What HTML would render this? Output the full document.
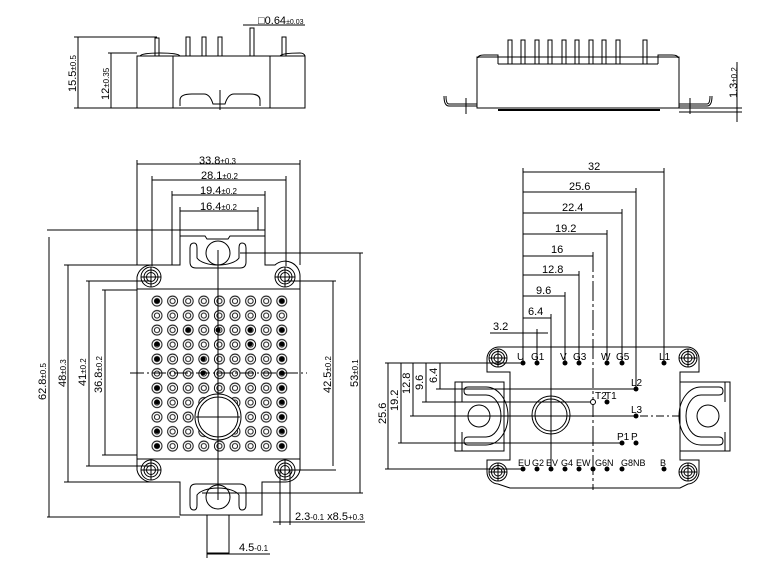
<!DOCTYPE html>
<html><head><meta charset="utf-8"><style>
html,body{margin:0;padding:0;background:#fff;}
svg{display:block}
text{font-family:"Liberation Sans",sans-serif;fill:#000}
</style></head><body>
<svg width="772" height="572" viewBox="0 0 772 572" xmlns="http://www.w3.org/2000/svg">
<defs>
<pattern id="pins" patternUnits="userSpaceOnUse" x="149.2" y="293.8" width="15.6" height="14.5">
<circle cx="7.8" cy="7.25" r="5" fill="none" stroke="#000" stroke-width="0.9"/>
<circle cx="7.8" cy="7.25" r="2.6" fill="none" stroke="#000" stroke-width="0.9"/>
</pattern>
<g id="hole"><circle r="10" fill="none" stroke="#000"/><circle r="7" fill="none" stroke="#000"/><circle r="4.5" fill="none" stroke="#000"/><line x1="-10" y1="0" x2="10" y2="0" stroke="#000"/><line x1="0" y1="-10" x2="0" y2="10" stroke="#000"/></g>
<g id="hole2"><circle r="9" fill="none" stroke="#000"/><circle r="6.5" fill="none" stroke="#000"/><circle r="4" fill="none" stroke="#000"/><line x1="-9" y1="0" x2="9" y2="0" stroke="#000"/><line x1="0" y1="-9" x2="0" y2="9" stroke="#000"/></g>
</defs>
<g fill="none" stroke="#000" stroke-width="1">
<!-- TOP LEFT SIDE VIEW -->
<rect x="137" y="56" width="168" height="52"/>
<line x1="173" y1="56" x2="173" y2="108"/><line x1="270" y1="56" x2="270" y2="108"/>
<path d="M155 56 V38 h4 V56 M186 56 V37 h4 V56 M202 56 V37 h4 V56 M218 56 V37 h4 V56 M250 56 V28 h4 V56 M282 56 V37 h4 V56"/>
<path d="M140 56 q2 -3 20 -3 q18 0 20 3 M280 56 q2 -3 20 -3 q4 0 5 3"/>
<path d="M180 106 v-6 q0 -6 12 -6 h12 q6 0 9 10 h12 q3 -10 9 -10 h16 q10 0 10 6 v6"/>
<line x1="220" y1="90" x2="220" y2="110"/>
<line x1="78" y1="37" x2="78" y2="108"/><line x1="74" y1="37" x2="157" y2="37"/>
<line x1="111" y1="53" x2="111" y2="108"/><line x1="108" y1="53" x2="137" y2="53"/>
<line x1="74" y1="108" x2="137" y2="108"/>
<line x1="243" y1="25" x2="305" y2="25"/>
<!-- TOP RIGHT SIDE VIEW -->
<rect x="477" y="57" width="202" height="51"/>
<line x1="498" y1="64" x2="658" y2="64"/>
<path d="M478 58 q0 -3 6 -3 h14 v9 M658 64 v-9 h14 q6 0 6 3"/>
<path d="M508 64 V40 h4 V64 M521 64 V40 h4 V64 M535 64 V40 h4 V64 M548 64 V40 h4 V64 M562 64 V40 h4 V64 M575 64 V40 h4 V64 M589 64 V40 h4 V64 M602 64 V40 h4 V64 M616 64 V40 h4 V64 M643 64 V40 h4 V64"/>
<line x1="498" y1="110" x2="660" y2="110" stroke-width="2"/>
<path d="M477 104 h-28 q-3 0 -3 -8 M477 106 h-28 q-5 0 -5 -10"/>
<path d="M679 104 h28 q3 0 3 -8 M679 106 h28 q5 0 5 -10"/>
<line x1="466" y1="98" x2="466" y2="114"/><line x1="690" y1="98" x2="690" y2="114"/>
<line x1="679" y1="108" x2="742" y2="108"/><line x1="679" y1="112" x2="742" y2="112"/>
<line x1="737" y1="62" x2="737" y2="122"/>

<!-- LEFT PLAN VIEW -->
<path d="M160 265 H180 V230 H265 V265 H275 a15 15 0 0 1 25 12 V470 a15 15 0 0 1 -15 12 H262 V515 H180 V482 H152 a15 15 0 0 1 -15 -12 V277 a15 15 0 0 1 15 -12 Z"/>
<line x1="137" y1="289" x2="300" y2="289"/><line x1="137" y1="459" x2="300" y2="459"/>
<path d="M180 236 H205 l2 3 H228 l2 -3 H265"/>
<path d="M194 243 q-4 0 -4 5 V262 q0 6 6 6 H240 q6 0 6 -6 V248 q0 -5 -4 -5 q-3 0 -3 5 V258 A22 10 0 0 1 197 258 V248 q0 -5 -3 -5 Z"/>
<circle cx="218" cy="253" r="12"/>
<path d="M194 510 q-4 0 -4 -5 V490 q0 -6 6 -6 H240 q6 0 6 6 V505 q0 5 -4 5 q-3 0 -3 -5 V495 A22 10 0 0 0 197 495 V505 q0 5 -3 5 Z"/>
<circle cx="218" cy="497" r="12"/>
<rect x="207" y="515" width="22" height="38"/>
<rect x="149.2" y="293.8" width="140.4" height="159.5" fill="url(#pins)" stroke="none"/>
<circle cx="218" cy="417" r="23" fill="#fff"/><circle cx="218" cy="417" r="20"/>
<g fill="#000" stroke="none">
<circle cx="157" cy="301" r="2.5"/><circle cx="282" cy="301" r="2.5"/><circle cx="188" cy="330" r="2.5"/><circle cx="218" cy="330" r="2.5"/><circle cx="250" cy="330" r="2.5"/><circle cx="282" cy="330" r="2.5"/>
<circle cx="157" cy="344" r="2.5"/><circle cx="250" cy="344" r="2.5"/><circle cx="282" cy="344" r="2.5"/><circle cx="157" cy="359" r="2.5"/><circle cx="203" cy="359" r="2.5"/><circle cx="282" cy="359" r="2.5"/>
<circle cx="203" cy="373" r="2.5"/><circle cx="282" cy="373" r="2.5"/><circle cx="157" cy="388" r="2.5"/><circle cx="282" cy="388" r="2.5"/><circle cx="157" cy="402" r="2.5"/><circle cx="282" cy="402" r="2.5"/>
<circle cx="282" cy="417" r="2.5"/><circle cx="157" cy="431" r="2.5"/><circle cx="282" cy="431" r="2.5"/><circle cx="157" cy="446" r="2.5"/><circle cx="282" cy="446" r="2.5"/>
</g>
<use href="#hole" x="151" y="277"/><use href="#hole" x="285" y="277"/><use href="#hole" x="151" y="470"/><use href="#hole" x="285" y="470"/>
<line x1="130" y1="373" x2="307" y2="373" stroke-dasharray="14,3,2,3"/>
<line x1="218" y1="250" x2="218" y2="500"/>
<line x1="196" y1="417" x2="240" y2="417"/>
<!-- top dims -->
<line x1="137" y1="164" x2="300" y2="164"/><line x1="137" y1="160" x2="137" y2="265"/><line x1="300" y1="160" x2="300" y2="265"/>
<line x1="152" y1="180" x2="286" y2="180"/><line x1="152" y1="176" x2="152" y2="266"/><line x1="286" y1="176" x2="286" y2="266"/>
<line x1="172" y1="195" x2="265" y2="195"/><line x1="172" y1="191" x2="172" y2="265"/><line x1="265" y1="191" x2="265" y2="230"/>
<line x1="180" y1="211" x2="258" y2="211"/><line x1="180" y1="207" x2="180" y2="230"/><line x1="258" y1="207" x2="258" y2="230"/>
<!-- left dims -->
<line x1="47" y1="230" x2="180" y2="230"/><line x1="49" y1="237" x2="49" y2="517"/><line x1="47" y1="517" x2="180" y2="517"/>
<line x1="64" y1="265" x2="152" y2="265"/><line x1="68" y1="265" x2="68" y2="482"/><line x1="64" y1="482" x2="152" y2="482"/>
<line x1="86" y1="281" x2="151" y2="281"/><line x1="89" y1="281" x2="89" y2="466"/><line x1="86" y1="466" x2="151" y2="466"/>
<line x1="102" y1="290" x2="137" y2="290"/><line x1="105" y1="290" x2="105" y2="455"/><line x1="102" y1="455" x2="137" y2="455"/>
<!-- right dims -->
<line x1="285" y1="281" x2="336" y2="281"/><line x1="333" y1="281" x2="333" y2="466"/><line x1="285" y1="470" x2="336" y2="470"/>
<line x1="240" y1="253" x2="363" y2="253"/><line x1="360" y1="253" x2="360" y2="493"/><line x1="202" y1="493" x2="363" y2="493"/>
<line x1="280" y1="470" x2="280" y2="525"/><line x1="290" y1="470" x2="290" y2="525"/><line x1="273" y1="522" x2="365" y2="522"/>
<line x1="207" y1="553" x2="207" y2="558"/><line x1="207" y1="554" x2="270" y2="554"/>

<!-- RIGHT PLAN VIEW -->
<path d="M498 347 H688 a12 12 0 0 1 11 11 V372 H680 V460 H699 V472 a12 12 0 0 1 -11 12 L680 488 H510 L498 484 a12 12 0 0 1 -11 -12 V460 H510 V372 H487 V358 a12 12 0 0 1 11 -11 Z"/>
<rect x="455" y="382" width="49" height="69"/>
<path d="M462 382 v20 M462 432 v19"/>
<path d="M468 387 H486 A22 29 0 0 1 486 445 H468 q-4 0 -4 -4 q0 -4 4 -4 H486 A15 21 0 0 0 486 395 H468 q-4 0 -4 -4 q0 -4 4 -4 Z"/>
<circle cx="479" cy="416" r="11"/>
<rect x="680" y="382" width="50" height="69"/>
<path d="M725 382 v20 M725 432 v19"/>
<path d="M719 387 H701 A22 29 0 0 0 701 445 H719 q4 0 4 -4 q0 -4 -4 -4 H701 A15 21 0 0 1 701 395 H719 q4 0 4 -4 q0 -4 -4 -4 Z"/>
<circle cx="708" cy="416" r="11"/>
<circle cx="551" cy="415" r="19"/><circle cx="551" cy="415" r="16"/>
<use href="#hole2" x="498" y="358"/><use href="#hole2" x="688" y="358"/><use href="#hole2" x="498" y="472"/><use href="#hole2" x="688" y="472"/>
<line x1="593" y1="252" x2="593" y2="490" stroke-dasharray="20,3,3,3"/>
<line x1="640" y1="416" x2="680" y2="416" stroke-dasharray="8,3,2,3"/>
<!-- horizontal dims -->
<line x1="523" y1="168" x2="523" y2="363"/>
<line x1="523" y1="172" x2="664" y2="172"/><line x1="664" y1="168" x2="664" y2="363"/>
<line x1="523" y1="192" x2="636" y2="192"/><line x1="636" y1="188" x2="636" y2="389"/>
<line x1="523" y1="213" x2="622" y2="213"/><line x1="622" y1="209" x2="622" y2="363"/>
<line x1="523" y1="234" x2="607" y2="234"/><line x1="607" y1="230" x2="607" y2="363"/>
<line x1="523" y1="256" x2="593" y2="256"/>
<line x1="523" y1="275" x2="579" y2="275"/><line x1="579" y1="271" x2="579" y2="363"/>
<line x1="523" y1="296" x2="565" y2="296"/><line x1="565" y1="292" x2="565" y2="363"/>
<line x1="523" y1="318" x2="551" y2="318"/><line x1="551" y1="314" x2="551" y2="469"/>
<line x1="490" y1="333" x2="548" y2="333"/><line x1="537" y1="329" x2="537" y2="363"/>
<!-- vertical dims -->
<line x1="385" y1="363" x2="523" y2="363"/>
<line x1="436" y1="389" x2="636" y2="389"/><line x1="440" y1="363" x2="440" y2="389"/>
<line x1="422" y1="402" x2="593" y2="402"/><line x1="426" y1="363" x2="426" y2="402"/>
<line x1="410" y1="416" x2="636" y2="416"/><line x1="413" y1="363" x2="413" y2="416"/>
<line x1="398" y1="443" x2="622" y2="443"/><line x1="401" y1="363" x2="401" y2="443"/>
<line x1="385" y1="469" x2="523" y2="469"/><line x1="388" y1="363" x2="388" y2="469"/>
</g>
<g fill="#000">
<circle cx="523" cy="363" r="2.5"/><circle cx="537" cy="363" r="2.5"/><circle cx="565" cy="363" r="2.5"/><circle cx="579" cy="363" r="2.5"/><circle cx="607" cy="363" r="2.5"/><circle cx="622" cy="363" r="2.5"/><circle cx="664" cy="363" r="2.5"/>
<circle cx="523" cy="469" r="2.5"/><circle cx="537" cy="469" r="2.5"/><circle cx="551" cy="469" r="2.5"/><circle cx="565" cy="469" r="2.5"/><circle cx="579" cy="469" r="2.5"/><circle cx="593" cy="469" r="2.5"/><circle cx="607" cy="469" r="2.5"/><circle cx="622" cy="469" r="2.5"/><circle cx="664" cy="469" r="2.5"/>
<circle cx="636" cy="389" r="2.5"/><circle cx="607" cy="402" r="2.5"/><circle cx="636" cy="416" r="2.5"/><circle cx="622" cy="443" r="2.5"/><circle cx="636" cy="443" r="2.5"/>
</g>
<circle cx="593" cy="402" r="2.5" fill="#fff" stroke="#000"/>
<g font-size="10">
<text x="517" y="360">U</text><text x="531" y="360">G1</text><text x="560" y="360">V</text><text x="573" y="360">G3</text><text x="601" y="360">W</text><text x="616" y="360">G5</text><text x="659" y="360">L1</text>
<text x="518" y="466" font-size="9">EU</text><text x="532" y="466" font-size="9">G2</text><text x="546" y="466" font-size="9">EV</text><text x="561" y="466" font-size="9">G4</text><text x="576" y="466" font-size="9">EW</text><text x="595" y="466" font-size="9">G6N</text><text x="621" y="466" font-size="9">G8</text><text x="633" y="466" font-size="9">NB</text><text x="660" y="466" font-size="9">B</text>
<text x="631" y="386">L2</text><text x="595" y="399">T2</text><text x="605" y="399">T1</text><text x="631" y="413">L3</text><text x="617" y="440">P1</text><text x="631" y="440">P</text>
</g>
<g font-size="11">
<text x="588" y="170">32</text><text x="569" y="190">25.6</text><text x="562" y="211">22.4</text><text x="555" y="232">19.2</text><text x="551" y="253">16</text><text x="542" y="273">12.8</text><text x="536" y="294">9.6</text><text x="528" y="315">6.4</text><text x="493" y="330">3.2</text>
<text transform="translate(437,383) rotate(-90)">6.4</text>
<text transform="translate(423,390) rotate(-90)">9.6</text>
<text transform="translate(410,394) rotate(-90)">12.8</text>
<text transform="translate(398,411) rotate(-90)">19.2</text>
<text transform="translate(386,424) rotate(-90)">25.6</text>
<text x="199" y="164">33.8<tspan font-size="8">±0.3</tspan></text>
<text x="201" y="179">28.1<tspan font-size="8">±0.2</tspan></text>
<text x="200" y="194">19.4<tspan font-size="8">±0.2</tspan></text>
<text x="200" y="210">16.4<tspan font-size="8">±0.2</tspan></text>
<text transform="translate(46,400) rotate(-90)">62.8<tspan font-size="8">±0.5</tspan></text>
<text transform="translate(66,387) rotate(-90)">48<tspan font-size="8">±0.3</tspan></text>
<text transform="translate(86,386) rotate(-90)">41<tspan font-size="8">±0.2</tspan></text>
<text transform="translate(102,393) rotate(-90)">36.8<tspan font-size="8">±0.2</tspan></text>
<text transform="translate(331,393) rotate(-90)">42.5<tspan font-size="8">±0.2</tspan></text>
<text transform="translate(358,387) rotate(-90)">53<tspan font-size="8">±0.1</tspan></text>
<text x="295" y="520">2.3<tspan font-size="8">-0.1</tspan> x8.5<tspan font-size="8">+0.3</tspan></text>
<text x="239" y="551">4.5<tspan font-size="8">-0.1</tspan></text>
<text transform="translate(76,92) rotate(-90)">15.5<tspan font-size="8">±0.5</tspan></text>
<text transform="translate(109,100) rotate(-90)">12<tspan font-size="8">±0.35</tspan></text>
<text x="258" y="24">□0.64<tspan font-size="7">±0.03</tspan></text>
<text transform="translate(737,98) rotate(-90)">1.3<tspan font-size="8">±0.2</tspan></text>
</g>
</svg>
</body></html>
